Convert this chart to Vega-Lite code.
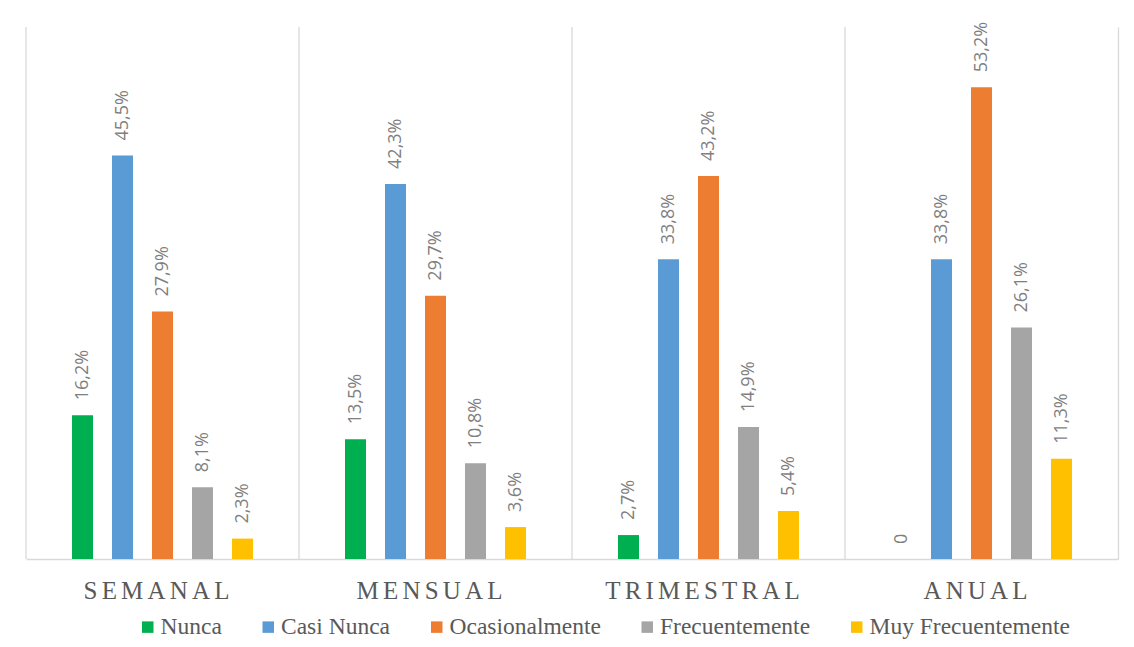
{
  "$schema": "https://vega.github.io/schema/vega-lite/v6.json",
  "width": 1092,
  "height": 532,
  "autosize": {"type": "none"},
  "padding": {"left": 26, "top": 27, "right": 16, "bottom": 88},
  "background": "white",
  "config": {"view": {"stroke": null}},
  "data": {
    "values": [
      {"periodo": "SEMANAL", "respuesta": "Nunca", "pct": 16.2},
      {"periodo": "SEMANAL", "respuesta": "Casi Nunca", "pct": 45.5},
      {"periodo": "SEMANAL", "respuesta": "Ocasionalmente", "pct": 27.9},
      {"periodo": "SEMANAL", "respuesta": "Frecuentemente", "pct": 8.1},
      {"periodo": "SEMANAL", "respuesta": "Muy Frecuentemente", "pct": 2.3},
      {"periodo": "MENSUAL", "respuesta": "Nunca", "pct": 13.5},
      {"periodo": "MENSUAL", "respuesta": "Casi Nunca", "pct": 42.3},
      {"periodo": "MENSUAL", "respuesta": "Ocasionalmente", "pct": 29.7},
      {"periodo": "MENSUAL", "respuesta": "Frecuentemente", "pct": 10.8},
      {"periodo": "MENSUAL", "respuesta": "Muy Frecuentemente", "pct": 3.6},
      {"periodo": "TRIMESTRAL", "respuesta": "Nunca", "pct": 2.7},
      {"periodo": "TRIMESTRAL", "respuesta": "Casi Nunca", "pct": 33.8},
      {"periodo": "TRIMESTRAL", "respuesta": "Ocasionalmente", "pct": 43.2},
      {"periodo": "TRIMESTRAL", "respuesta": "Frecuentemente", "pct": 14.9},
      {"periodo": "TRIMESTRAL", "respuesta": "Muy Frecuentemente", "pct": 5.4},
      {"periodo": "ANUAL", "respuesta": "Nunca", "pct": 0},
      {"periodo": "ANUAL", "respuesta": "Casi Nunca", "pct": 33.8},
      {"periodo": "ANUAL", "respuesta": "Ocasionalmente", "pct": 53.2},
      {"periodo": "ANUAL", "respuesta": "Frecuentemente", "pct": 26.1},
      {"periodo": "ANUAL", "respuesta": "Muy Frecuentemente", "pct": 11.3}
    ]
  },
  "transform": [
    {"calculate": "datum.pct === 0 ? '0' : replace(format(datum.pct, '.1f'), '.', ',') + '%'", "as": "etiqueta"}
  ],
  "encoding": {
    "x": {
      "field": "periodo",
      "type": "nominal",
      "sort": ["SEMANAL", "MENSUAL", "TRIMESTRAL", "ANUAL"],
      "scale": {"paddingInner": 0, "paddingOuter": 0},
      "axis": {
        "title": null,
        "labelAngle": 0,
        "labelFont": "Liberation Serif",
        "labelFontSize": 25,
        "labelColor": "#595959",
        "labelPadding": 19,
        "labelOffset": -6,
        "labelLimit": 600,
        "labelExpr": "join(split(datum.label, ''), '\u200a\u200a')",
        "ticks": false,
        "grid": false,
        "domainColor": "#d9d9d9",
        "domainWidth": 1.3
      }
    }
  },
  "layer": [
    {
      "transform": [{"aggregate": [{"op": "count", "as": "n"}], "groupby": ["periodo"]}],
      "mark": {"type": "rule", "color": "#d9d9d9", "strokeWidth": 1.3},
      "encoding": {
        "x": {"field": "periodo", "type": "nominal", "sort": ["SEMANAL", "MENSUAL", "TRIMESTRAL", "ANUAL"], "bandPosition": 0}
      }
    },
    {
      "mark": {"type": "bar"},
      "encoding": {
        "xOffset": {
          "field": "respuesta",
          "type": "nominal",
          "scale": {
            "domain": ["", "Nunca", "Casi Nunca", "Ocasionalmente", "Frecuentemente", "Muy Frecuentemente", " "],
            "paddingInner": 0.475,
            "paddingOuter": 0.15
          }
        },
        "y": {
          "field": "pct",
          "type": "quantitative",
          "scale": {"domain": [0, 60], "nice": false},
          "axis": {
            "orient": "right",
            "title": null,
            "labels": false,
            "ticks": false,
            "grid": false,
            "domainColor": "#d9d9d9",
            "domainWidth": 1.3
          }
        },
        "color": {
          "field": "respuesta",
          "type": "nominal",
          "scale": {
            "domain": ["Nunca", "Casi Nunca", "Ocasionalmente", "Frecuentemente", "Muy Frecuentemente"],
            "range": ["#00b050", "#5b9bd5", "#ed7d31", "#a5a5a5", "#ffc000"]
          },
          "legend": {
            "title": null,
            "orient": "none",
            "direction": "horizontal",
            "legendX": 110,
            "legendY": 588,
            "padding": 0,
            "symbolType": "square",
            "symbolSize": 132,
            "symbolStrokeWidth": 0,
            "labelFont": "Liberation Serif",
            "labelFontSize": 23.5,
            "labelColor": "#595959",
            "labelOffset": 1,
            "columnPadding": 34.5,
            "labelLimit": 400
          }
        }
      }
    },
    {
      "mark": {
        "type": "text",
        "angle": 270,
        "align": "left",
        "baseline": "middle",
        "dx": 15,
        "font": "Open Sans",
        "fontSize": 18,
        "color": "#7f7f7f"
      },
      "encoding": {
        "xOffset": {
          "field": "respuesta",
          "type": "nominal",
          "scale": {
            "domain": ["", "Nunca", "Casi Nunca", "Ocasionalmente", "Frecuentemente", "Muy Frecuentemente", " "],
            "paddingInner": 0.475,
            "paddingOuter": 0.15
          }
        },
        "y": {"field": "pct", "type": "quantitative"},
        "text": {"field": "etiqueta"}
      }
    }
  ]
}
